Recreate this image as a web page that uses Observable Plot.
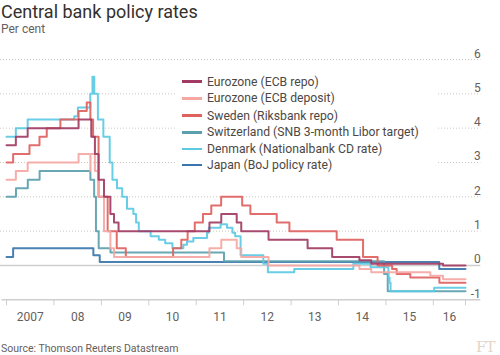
<!DOCTYPE html>
<html><head><meta charset="utf-8">
<script src="https://cdn.jsdelivr.net/npm/d3@7"></script>
<script src="https://cdn.jsdelivr.net/npm/@observablehq/plot@0.6"></script>
<style>
html,body{margin:0;padding:0;background:#fff;}
#wrap{position:relative;width:500px;height:355px;overflow:hidden;font-family:Roboto,"Noto Sans",sans-serif;}
#title{position:absolute;left:1px;top:1px;font-size:18px;color:#33302e;line-height:22px;white-space:nowrap;}
#sub{position:absolute;left:1px;top:22px;font-size:12px;line-height:14px;color:#66605c;}
#chart{position:absolute;left:0;top:40px;}
#legend{position:absolute;left:175px;top:72px;width:262px;height:102px;background:#fff;}
.sw{position:absolute;width:20px;height:2.5px;}
.lt{position:absolute;font-size:12.2px;line-height:16px;color:#4d4845;white-space:nowrap;}
#source{position:absolute;left:1px;top:342px;font-size:10.5px;line-height:13px;color:#66605c;white-space:nowrap;}
#ft{position:absolute;left:476px;top:339px;font-family:"DejaVu Serif",serif;font-size:15px;line-height:16px;color:#e3d6ca;letter-spacing:-1px;}
</style></head>
<body>
<div id="wrap">
  <div id="title">Central bank policy rates</div>
  <div id="sub">Per cent</div>
  <div id="chart"></div>
  <div id="legend"></div>
  <div id="source">Source: Thomson Reuters Datastream</div>
  <div id="ft">FT</div>
</div>
<script>
// ---- data (step changes: [date, rate]) ----
const seriesNames = [
  "Eurozone (ECB repo)",
  "Eurozone (ECB deposit)",
  "Sweden (Riksbank repo)",
  "Switzerland (SNB 3-month Libor target)",
  "Denmark (Nationalbank CD rate)",
  "Japan (BoJ policy rate)"
];
const seriesColors = ["#a23b63", "#f5a7a3", "#e0625f", "#5c9fae", "#5ccae3", "#3a76ad"];

const ecbRepo = [
  ["2007-01-01",3.50],["2007-03-14",3.75],["2007-06-13",4.00],["2008-07-09",4.25],
  ["2008-10-15",3.75],["2008-11-12",3.25],["2008-12-10",2.50],["2009-01-21",2.00],
  ["2009-03-11",1.50],["2009-04-08",1.25],["2009-05-13",1.00],["2011-04-13",1.25],
  ["2011-07-13",1.50],["2011-11-09",1.25],["2011-12-14",1.00],["2012-07-11",0.75],
  ["2013-05-08",0.50],["2013-11-13",0.25],["2014-06-11",0.15],["2014-09-10",0.05],
  ["2016-03-16",0.00]
];
const ecbDeposit = [
  ["2007-01-01",2.50],["2007-03-14",2.75],["2007-06-13",3.00],["2008-07-09",3.25],
  ["2008-10-08",2.75],["2008-10-09",3.25],["2008-11-12",2.75],["2008-12-10",2.00],
  ["2009-01-21",1.00],["2009-03-11",0.50],["2009-04-08",0.25],["2011-04-13",0.50],
  ["2011-07-13",0.75],["2011-11-09",0.50],["2011-12-14",0.25],["2012-07-11",0.00],
  ["2014-06-11",-0.10],["2014-09-10",-0.20],["2015-12-09",-0.30],["2016-03-16",-0.40]
];
const sweden = [
  ["2007-01-01",3.00],["2007-02-21",3.25],["2007-06-27",3.50],["2007-09-12",3.75],
  ["2007-11-07",4.00],["2008-02-20",4.25],["2008-07-09",4.50],["2008-09-10",4.75],
  ["2008-10-08",4.25],["2008-10-29",3.75],["2008-12-10",2.00],["2009-02-18",1.00],
  ["2009-04-29",0.50],["2009-07-08",0.25],["2010-07-07",0.50],["2010-09-08",0.75],
  ["2010-10-27",1.00],["2010-12-21",1.25],["2011-02-22",1.50],["2011-04-27",1.75],
  ["2011-07-12",2.00],["2011-12-21",1.75],["2012-02-22",1.50],["2012-09-12",1.25],
  ["2012-12-19",1.00],["2013-12-18",0.75],["2014-07-09",0.25],["2014-10-29",0.00],
  ["2015-02-18",-0.10],["2015-03-25",-0.25],["2015-07-08",-0.35],["2016-02-17",-0.50]
];
const switzerland = [
  ["2007-01-01",2.00],["2007-03-15",2.25],["2007-06-14",2.50],["2007-09-13",2.75],
  ["2008-10-08",2.50],["2008-11-06",2.00],["2008-11-20",1.00],["2008-12-11",0.50],
  ["2009-03-12",0.375],["2011-08-03",0.125],["2014-12-18",-0.25],["2015-01-15",-0.75]
];
const denmark = [
  ["2007-01-01",3.75],["2007-03-14",4.00],["2007-06-13",4.25],["2008-06-06",4.35],
  ["2008-07-04",4.60],["2008-10-07",5.00],["2008-10-24",5.50],["2008-11-07",5.00],
  ["2008-12-05",4.25],["2009-01-16",3.75],["2009-03-06",3.00],["2009-03-27",2.50],
  ["2009-05-01",2.25],["2009-06-10",2.00],["2009-07-17",1.65],["2009-09-04",1.50],
  ["2009-09-25",1.25],["2009-10-16",1.00],["2010-01-15",0.85],["2010-03-19",0.75],
  ["2010-05-07",0.65],["2010-07-02",0.50],["2010-09-24",0.60],["2010-10-22",0.70],
  ["2010-12-10",0.80],["2011-03-25",0.95],["2011-04-08",1.10],["2011-07-08",1.20],
  ["2011-08-26",1.10],["2011-10-07",0.95],["2011-10-28",0.85],["2011-12-09",0.30],
  ["2012-06-01",0.05],["2012-07-06",-0.20],["2013-01-25",-0.10],["2014-04-25",0.05],
  ["2014-09-05",-0.05],["2015-01-20",-0.20],["2015-01-22",-0.35],["2015-01-29",-0.50],
  ["2015-02-06",-0.75],["2016-01-08",-0.65]
];
const japan = [
  ["2007-01-01",0.25],["2007-02-21",0.50],["2008-10-31",0.30],["2008-12-19",0.10],
  ["2016-02-16",-0.10]
];
const seriesData = [ecbRepo, ecbDeposit, sweden, switzerland, denmark, japan];

const endDate = "2016-09-05";
const yTicks = [-1, 0, 1, 2, 3, 4, 5, 6];
const yearTicks = ["2007-01-01","2008-01-01","2009-01-01","2010-01-01","2011-01-01",
  "2012-01-01","2013-01-01","2014-01-01","2015-01-01","2016-01-01"];
const yearLabels = ["2007","08","09","10","11","12","13","14","15","16"];
const gridStart = "2006-11-16";
const gridEnd = "2017-01-01";

// ---- build ----
const P = d3.utcParse("%Y-%m-%d");
const drawOrder = [5, 3, 4, 2, 1, 0];
const rows = [];
for (const i of drawOrder) {
  const s = seriesData[i];
  for (const [d, v] of s) rows.push({name: seriesNames[i], date: P(d), value: v});
  rows.push({name: seriesNames[i], date: P(endDate), value: s[s.length - 1][1]});
}
const tickDates = yearTicks.map(P).concat([P(endDate)]);
const labelRows = yearLabels.map((t, i) => ({
  text: t,
  date: new Date((tickDates[i].getTime() + tickDates[i + 1].getTime()) / 2)
}));
const gridRows = yTicks.filter(v => v > 0);

const chart = Plot.plot({
  width: 500,
  height: 290,
  marginTop: 19,
  marginBottom: 30.7,
  marginLeft: 6,
  marginRight: 35,
  style: {fontFamily: "Roboto, 'Noto Sans', sans-serif", background: "transparent"},
  x: {type: "utc", domain: [P("2007-01-01"), P(endDate)], axis: null},
  y: {domain: [-1, 6], axis: null},
  color: {domain: seriesNames, range: seriesColors},
  marks: [
    Plot.ruleY(gridRows, {y: d => d, x1: P(gridStart), x2: P(gridEnd), stroke: "#cdc6be", strokeWidth: 1, strokeDasharray: "1,2"}),
    Plot.ruleY([0], {x1: P(gridStart), x2: P(gridEnd), stroke: "#cfcfcf", strokeWidth: 1.5}),
    Plot.ruleY([-1], {x1: P("2006-11-28"), x2: P(gridEnd), stroke: "#cfcfcf", strokeWidth: 1.5}),
    Plot.axisX({ticks: tickDates, tickSize: 6, tickFormat: () => "", stroke: "#cfcfcf", strokeWidth: 1}),
    Plot.text(labelRows, {x: "date", y: () => -1, text: "text", dy: 21, lineAnchor: "bottom", fontSize: 12, fill: "#66605c"}),
    Plot.text(yTicks, {x: () => P(gridEnd), y: d => d, text: d => String(d), textAnchor: "end", lineAnchor: "bottom", dy: -2, fontSize: 12, fill: "#66605c"}),
    Plot.line(rows, {x: "date", y: "value", z: "name", stroke: "name", curve: "step-after", strokeWidth: 2, strokeOpacity: 0.92})
  ]
});
document.getElementById("chart").appendChild(chart);

// ---- legend ----
const leg = document.getElementById("legend");
const rowCenters = [9.7, 26.3, 43.5, 60.3, 77, 93];
seriesNames.forEach((n, i) => {
  const sw = document.createElement("div");
  sw.className = "sw";
  sw.style.left = "7px";
  sw.style.top = (rowCenters[i] - 1.25) + "px";
  sw.style.background = seriesColors[i];
  leg.appendChild(sw);
  const t = document.createElement("div");
  t.className = "lt";
  t.style.left = "32px";
  t.style.top = (rowCenters[i] - 8) + "px";
  t.textContent = n;
  leg.appendChild(t);
});
</script>
</body></html>
